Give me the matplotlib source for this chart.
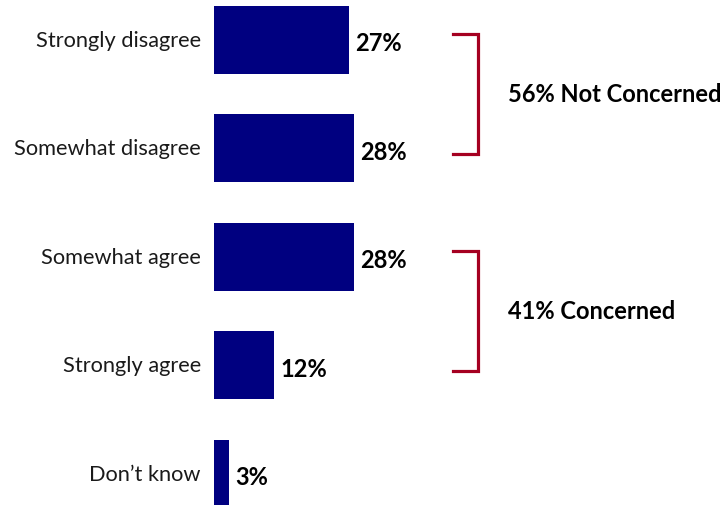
import matplotlib
matplotlib.use("Agg")
import matplotlib.pyplot as plt

categories = ["Strongly disagree", "Somewhat disagree", "Somewhat agree", "Strongly agree", "Don\u2019t know"]
values = [27, 28, 28, 12, 3]
group_labels = ["56% Not Concerned", "41% Concerned"]
group_spans = [(0, 1), (2, 3)]

NAVY = "#000080"
RED = "#A50021"

plt.rcParams["font.family"] = ["Lato", "DejaVu Sans"]

fig = plt.figure(figsize=(7.27, 5.06), dpi=100)
ax = fig.add_axes([214 / 727, 0, 1 - 214 / 727, 1])

pos = list(range(len(categories)))
ax.barh(pos, values, height=0.627, color=NAVY)
ax.set_xlim(0, 513 / 5)
ax.set_ylim(4.29, -0.375)
ax.axis("off")

# category names left of the bars, values right of them
for i, (cat, v) in enumerate(zip(categories, values)):
    ax.text(-2.6, i, cat, ha="right", va="center", fontsize=15.7, color="#1a1a1a")
    ax.text(v + 1.2, i + 0.03, f"{v}%", ha="left", va="center",
            fontsize=17, fontweight="bold", color="black")

# brackets grouping agree / disagree answers
for (a, b), lab in zip(group_spans, group_labels):
    top, bot = a - 0.05, b + 0.05
    ax.plot([47.8, 52.8, 52.8, 47.8], [top, top, bot, bot], color=RED,
            lw=2.3, solid_joinstyle="miter", clip_on=False)
    ax.text(58.8, (top + bot) / 2, lab, ha="left", va="center",
            fontsize=17, fontweight="bold", color="black")

fig.savefig("out.png", dpi=100)
